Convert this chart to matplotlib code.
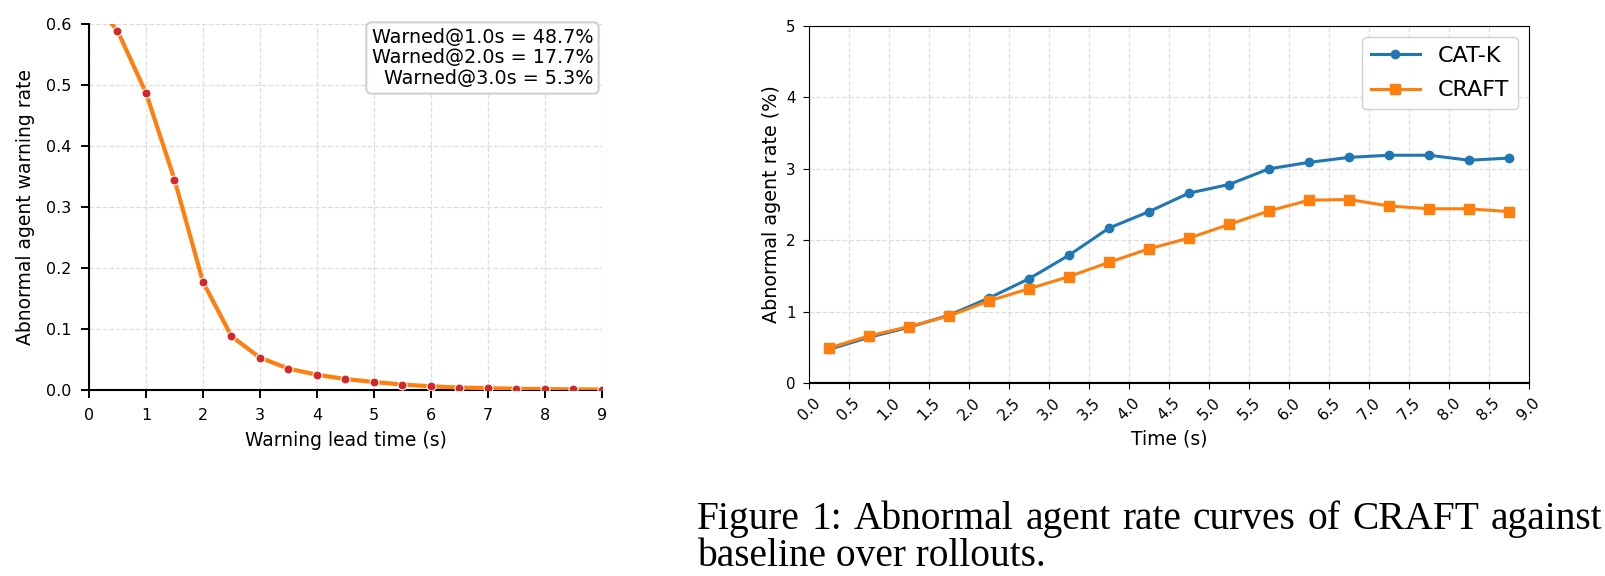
import matplotlib
matplotlib.use("Agg")
import matplotlib.pyplot as plt
import numpy as np

# ---------------- data ----------------
lead_time = [0.0, 0.5, 1.0, 1.5, 2.0, 2.5, 3.0, 3.5, 4.0, 4.5, 5.0, 5.5, 6.0, 6.5, 7.0, 7.5, 8.0, 8.5, 9.0]
warn_rate = [0.645, 0.589, 0.487, 0.345, 0.177, 0.088, 0.053, 0.035, 0.025, 0.018, 0.013, 0.009, 0.006, 0.004, 0.003, 0.002, 0.0015, 0.001, 0.0008]
warn_text = ["Warned@1.0s = 48.7%", "Warned@2.0s = 17.7%", "Warned@3.0s = 5.3%"]

time_s = [0.25, 0.75, 1.25, 1.75, 2.25, 2.75, 3.25, 3.75, 4.25, 4.75, 5.25, 5.75, 6.25, 6.75, 7.25, 7.75, 8.25, 8.75]
catk = [0.47, 0.64, 0.78, 0.95, 1.19, 1.46, 1.79, 2.17, 2.40, 2.66, 2.78, 3.00, 3.09, 3.16, 3.19, 3.19, 3.12, 3.15]
craft = [0.49, 0.66, 0.79, 0.94, 1.15, 1.32, 1.49, 1.69, 1.88, 2.03, 2.22, 2.41, 2.56, 2.57, 2.48, 2.44, 2.44, 2.40]
series_names = ["CAT-K", "CRAFT"]
right_xticks = [0.0, 0.5, 1.0, 1.5, 2.0, 2.5, 3.0, 3.5, 4.0, 4.5, 5.0, 5.5, 6.0, 6.5, 7.0, 7.5, 8.0, 8.5, 9.0]
right_yticks = [0, 1, 2, 3, 4, 5]
left_xticks = [0, 1, 2, 3, 4, 5, 6, 7, 8, 9]
left_yticks = [0.0, 0.1, 0.2, 0.3, 0.4, 0.5, 0.6]
caption = ["Figure 1: Abnormal agent rate curves of CRAFT against", "baseline over rollouts."]

W, H = 1606, 576
fig = plt.figure(figsize=(W / 100, H / 100), dpi=100)
plt.rcParams['font.family'] = ['DejaVu Sans']

grid_kw = dict(color='#dddddd', linestyle='--', linewidth=0.9)

# ---------------- left panel ----------------
axL = fig.add_axes([89 / W, 1 - 390 / H, (602 - 89) / W, (390 - 24) / H])
axL.plot(lead_time, warn_rate, color='#ff7f0e', lw=3, zorder=3)
axL.plot(lead_time, warn_rate, linestyle='none', marker='o', ms=6.5, mfc='#d62728',
         mec='white', mew=0.8, zorder=4)
axL.set_xlim(0, 9)
axL.set_ylim(0, 0.6)
axL.set_xticks(left_xticks)
axL.set_yticks(left_yticks)
axL.set_yticklabels([f"{v:.1f}" for v in left_yticks])
axL.grid(True, **grid_kw)
axL.set_axisbelow(True)
for s in ['top', 'right']:
    axL.spines[s].set_visible(False)
for s in ['left', 'bottom']:
    axL.spines[s].set_linewidth(1.5)
axL.tick_params(axis='both', labelsize=11.5, length=5.8, width=1.4, pad=7)
axL.set_xlabel("Warning lead time (s)", fontsize=13.5, labelpad=6)
axL.set_ylabel("Abnormal agent warning rate", fontsize=13.5, labelpad=8)
axL.text(0.983, 0.99, "\n".join(warn_text), transform=axL.transAxes, ha='right', va='top',
         multialignment='right', fontsize=13.8, linespacing=1.12, zorder=6,
         bbox=dict(boxstyle='round,pad=0.28', fc='white', ec='#cccccc', lw=1.5, alpha=0.9))

# ---------------- right panel ----------------
axR = fig.add_axes([809 / W, 1 - 383 / H, (1529 - 809) / W, (383 - 26) / H])
axR.plot(time_s, catk, color='#1f77b4', lw=2.2, marker='o', ms=6, label=series_names[0], zorder=3)
axR.plot(time_s, craft, color='#ff7f0e', lw=2.2, marker='s', ms=7, label=series_names[1], zorder=3)
axR.axhline(0, color='black', lw=1.6, zorder=4)
axR.set_xlim(0, 9)
axR.set_ylim(0, 5)
axR.set_xticks(right_xticks)
axR.set_xticklabels([f"{v:.1f}" for v in right_xticks], rotation=45)
axR.set_yticks(right_yticks)
axR.grid(True, **grid_kw)
axR.set_axisbelow(True)
axR.tick_params(axis='both', length=4.5, pad=4)
axR.tick_params(axis='x', labelsize=11.2)
axR.tick_params(axis='y', labelsize=10.8, pad=5)
axR.set_xlabel("Time (s)", fontsize=13.5, labelpad=5)
axR.set_ylabel("Abnormal agent rate (%)", fontsize=13.8)
axR.legend(loc='upper right', fontsize=16, handlelength=2.2, handletextpad=0.8,
           labelspacing=0.65, framealpha=0.9, edgecolor='#cccccc')

# ---------------- caption (line 1 justified) ----------------
cap_font = dict(family=['Liberation Serif', 'DejaVu Serif'], fontsize=28.4)
x0, x_end = 697.0, 1602.0
renderer = fig.canvas.get_renderer()
words = caption[0].split(" ")
objs = [fig.text(0, 1 - 529 / H, w, ha='left', va='baseline', **cap_font) for w in words]
widths = [o.get_window_extent(renderer).width for o in objs]
gap = (x_end - x0 - sum(widths)) / (len(words) - 1)
xc = x0
for o, wdt in zip(objs, widths):
    o.set_x(xc / W)
    xc += wdt + gap
fig.text(x0 / W, 1 - 566 / H, caption[1], ha='left', va='baseline', **cap_font)

fig.savefig("out.png", dpi=100)
